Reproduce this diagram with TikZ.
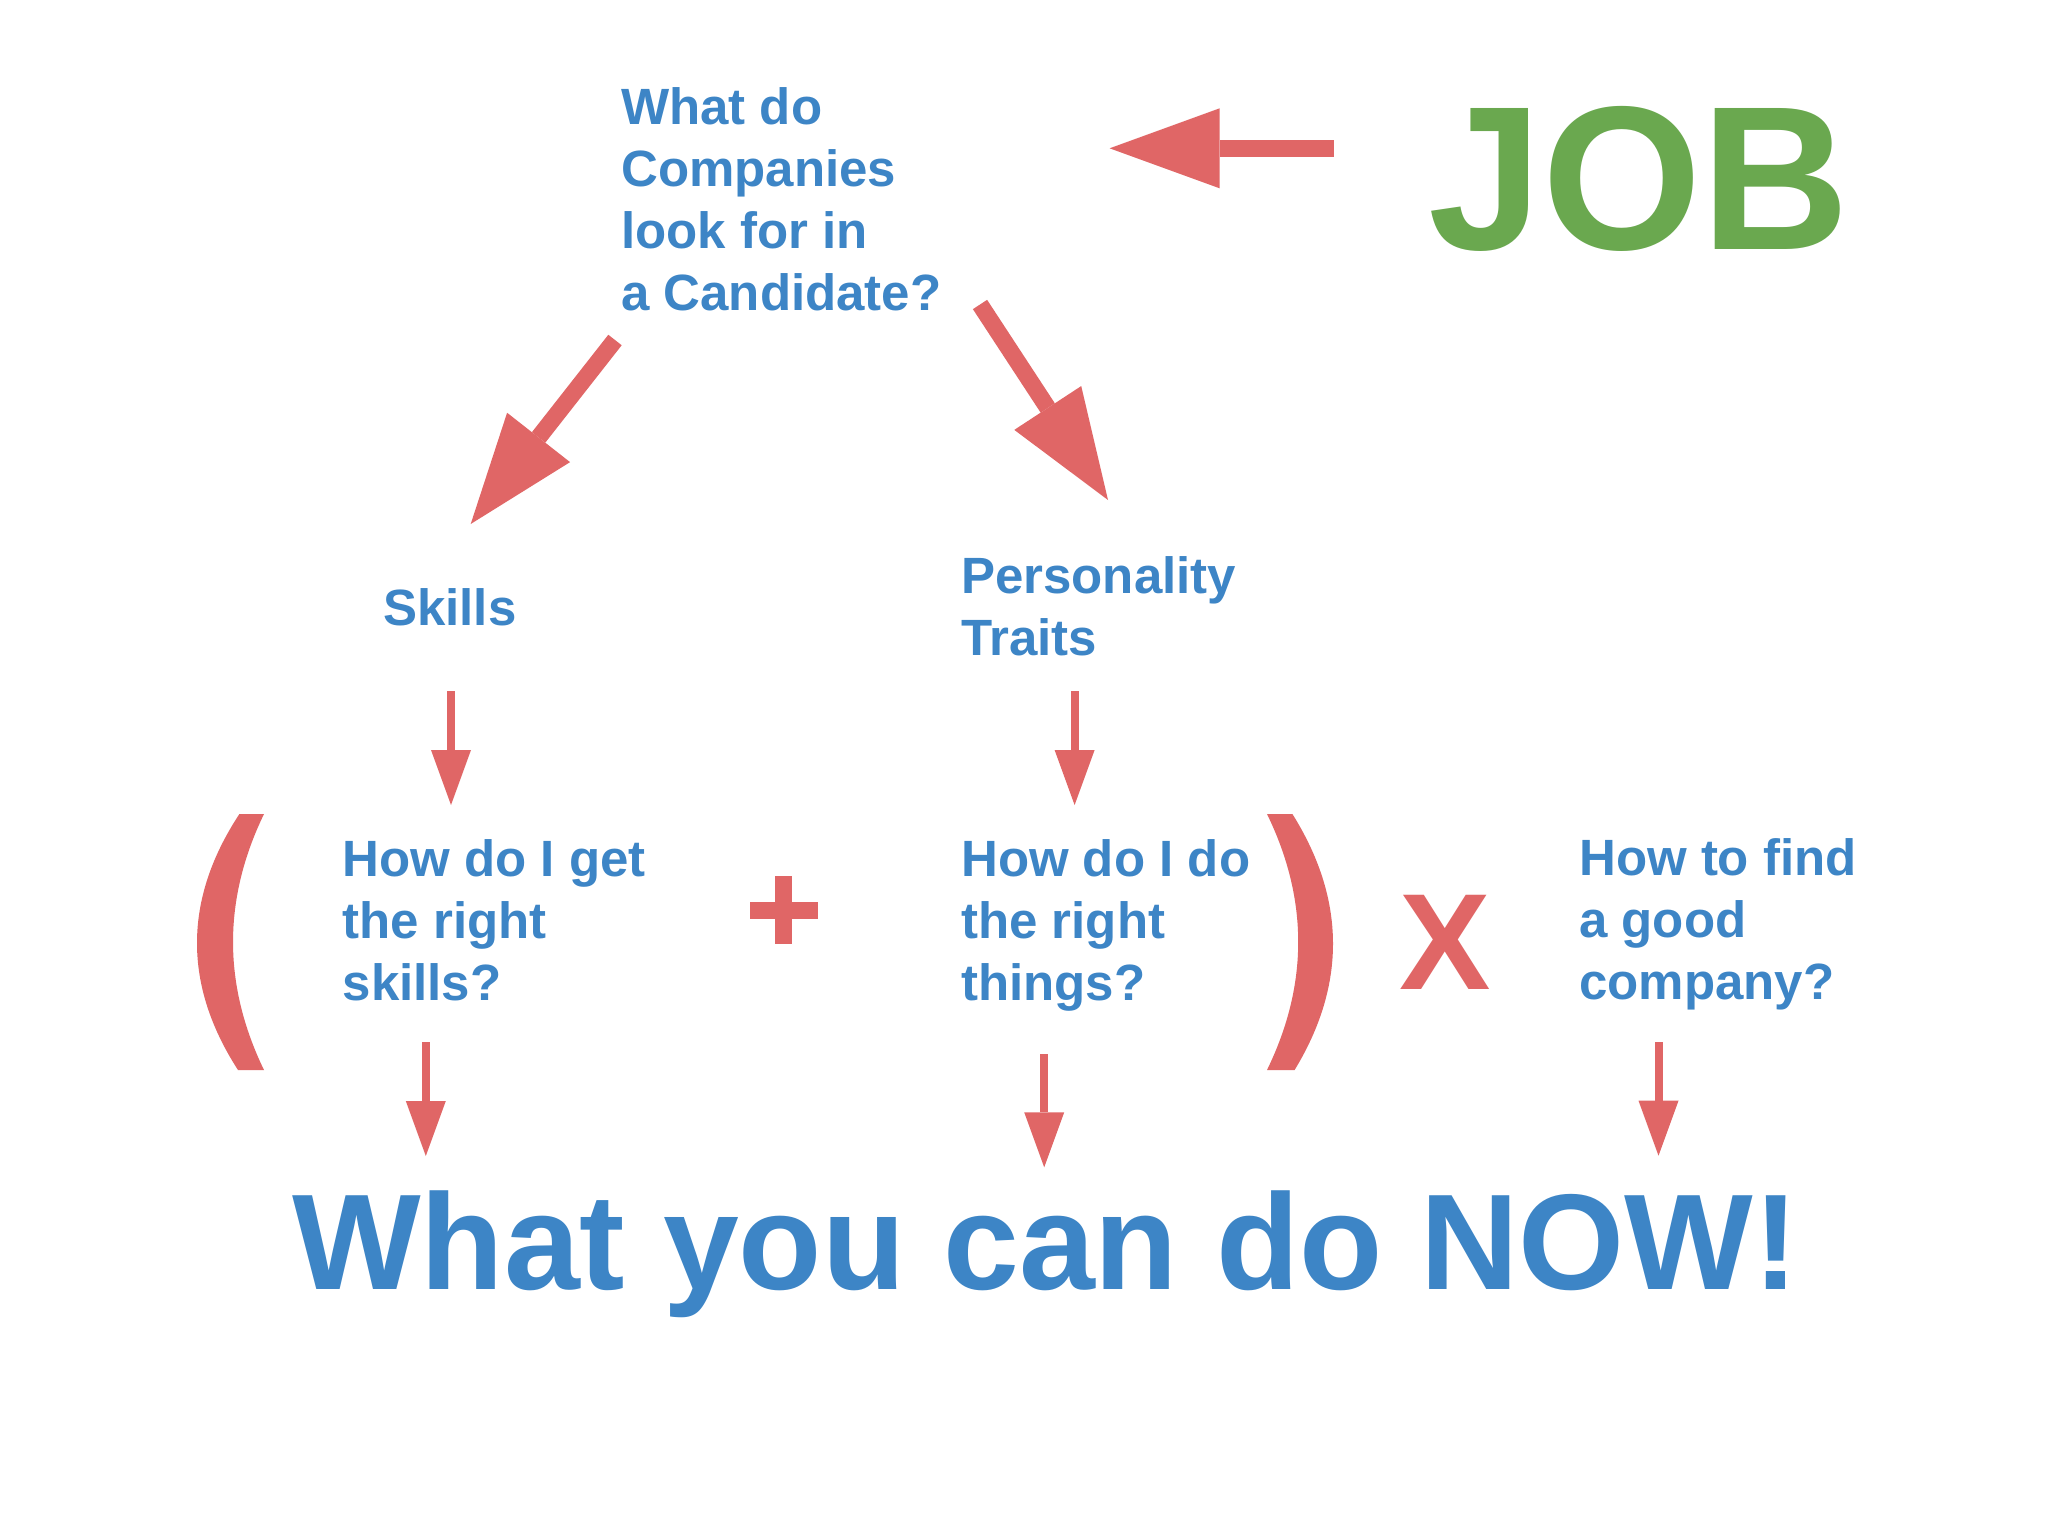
\documentclass[tikz,border=0pt]{standalone}
\usepackage{fontspec}
\setmainfont{Liberation Sans}
\usetikzlibrary{arrows.meta}
\definecolor{myblue}{HTML}{3D85C6}
\definecolor{myred}{HTML}{E06666}
\definecolor{mygreen}{HTML}{6AA84F}
\tikzset{
  qtext/.style={font=\fontsize{51}{61.7}\selectfont\bfseries, text=myblue, align=left, inner sep=0pt, anchor=base west},
  bigarrow/.style={draw=myred, line width=17pt, -{Triangle[length=110pt,width=80pt,line width=0pt]}},
  smallarrow/.style={draw=myred, line width=8pt, -{Triangle[length=55pt,width=40pt,line width=0pt]}},
}
\begin{document}
\begin{tikzpicture}[x=1pt,y=-1pt]
\useasboundingbox[fill=white] (0,0) rectangle (2048,1536);

% texts (anchor = baseline of the last line)
\node[qtext] (question) at (621,310) {What do\\Companies\\look for in\\a Candidate?};
\node[inner sep=0pt, anchor=base west, text=mygreen, font=\fontsize{205}{246}\selectfont\bfseries] (job) at (1428,249.5) {JOB};
\node[qtext] (skills) at (383,625.4) {Skills};
\node[qtext] (traits) at (961,655) {Personality\\Traits};
\node[qtext] (getskills) at (342.5,1000) {How do I get\\the right\\skills?};
\node[qtext] (dothings) at (961,1000) {How do I do\\the right\\things?};
\node[qtext] (company) at (1579,999) {How to find\\a good\\company?};
\node[inner sep=0pt, anchor=base west, text=myblue, font=\fontsize{136.3}{164}\selectfont\bfseries] (now) at (292,1289.3) {What you can do NOW!};
\node[inner sep=0pt, anchor=base, text=myred, font=\fontsize{137}{164}\selectfont\bfseries] (times) at (1445,989.3) {X};

% plus sign
\fill[myred] (775.2,876) rectangle (792.4,944.3);
\fill[myred] (749.5,902) rectangle (817.5,919.3);

% parentheses
\fill[myred] (239.4,814) .. controls (183.3,899.3) and (182.9,984.7) .. (238,1070) -- (264,1070) .. controls (222.7,984.7) and (222.7,899.3) .. (264,814) -- cycle;
\fill[myred] (1292.4,814) .. controls (1345.8,899.3) and (1346.5,984.7) .. (1294.6,1070) -- (1267,1070) .. controls (1308.6,984.7) and (1308.6,899.3) .. (1267,814) -- cycle;

% arrow end points
\coordinate (jobS) at (1333.5,148.3);
\coordinate (jobE) at (1109.6,148.3);
\coordinate (lS) at (615,340);
\coordinate (lE) at (470.7,524);
\coordinate (rS) at (980,304.5);
\coordinate (rE) at (1108,500);
\coordinate (s1S) at (451,691.4);
\coordinate (s1E) at (451,805);
\coordinate (s2S) at (1074.6,691.4);
\coordinate (s2E) at (1074.6,805);
\coordinate (b1S) at (425.8,1042.3);
\coordinate (b1E) at (425.8,1156);
\coordinate (b2S) at (1044.2,1054.3);
\coordinate (b2E) at (1044.2,1167.3);
\coordinate (b3S) at (1658.5,1042.3);
\coordinate (b3E) at (1658.5,1155.7);

\draw[bigarrow] (jobS) -- (jobE);
\draw[bigarrow] (lS) -- (lE);
\draw[bigarrow] (rS) -- (rE);
\draw[smallarrow] (s1S) -- (s1E);
\draw[smallarrow] (s2S) -- (s2E);
\draw[smallarrow] (b1S) -- (b1E);
\draw[smallarrow] (b2S) -- (b2E);
\draw[smallarrow] (b3S) -- (b3E);
\end{tikzpicture}
\end{document}
